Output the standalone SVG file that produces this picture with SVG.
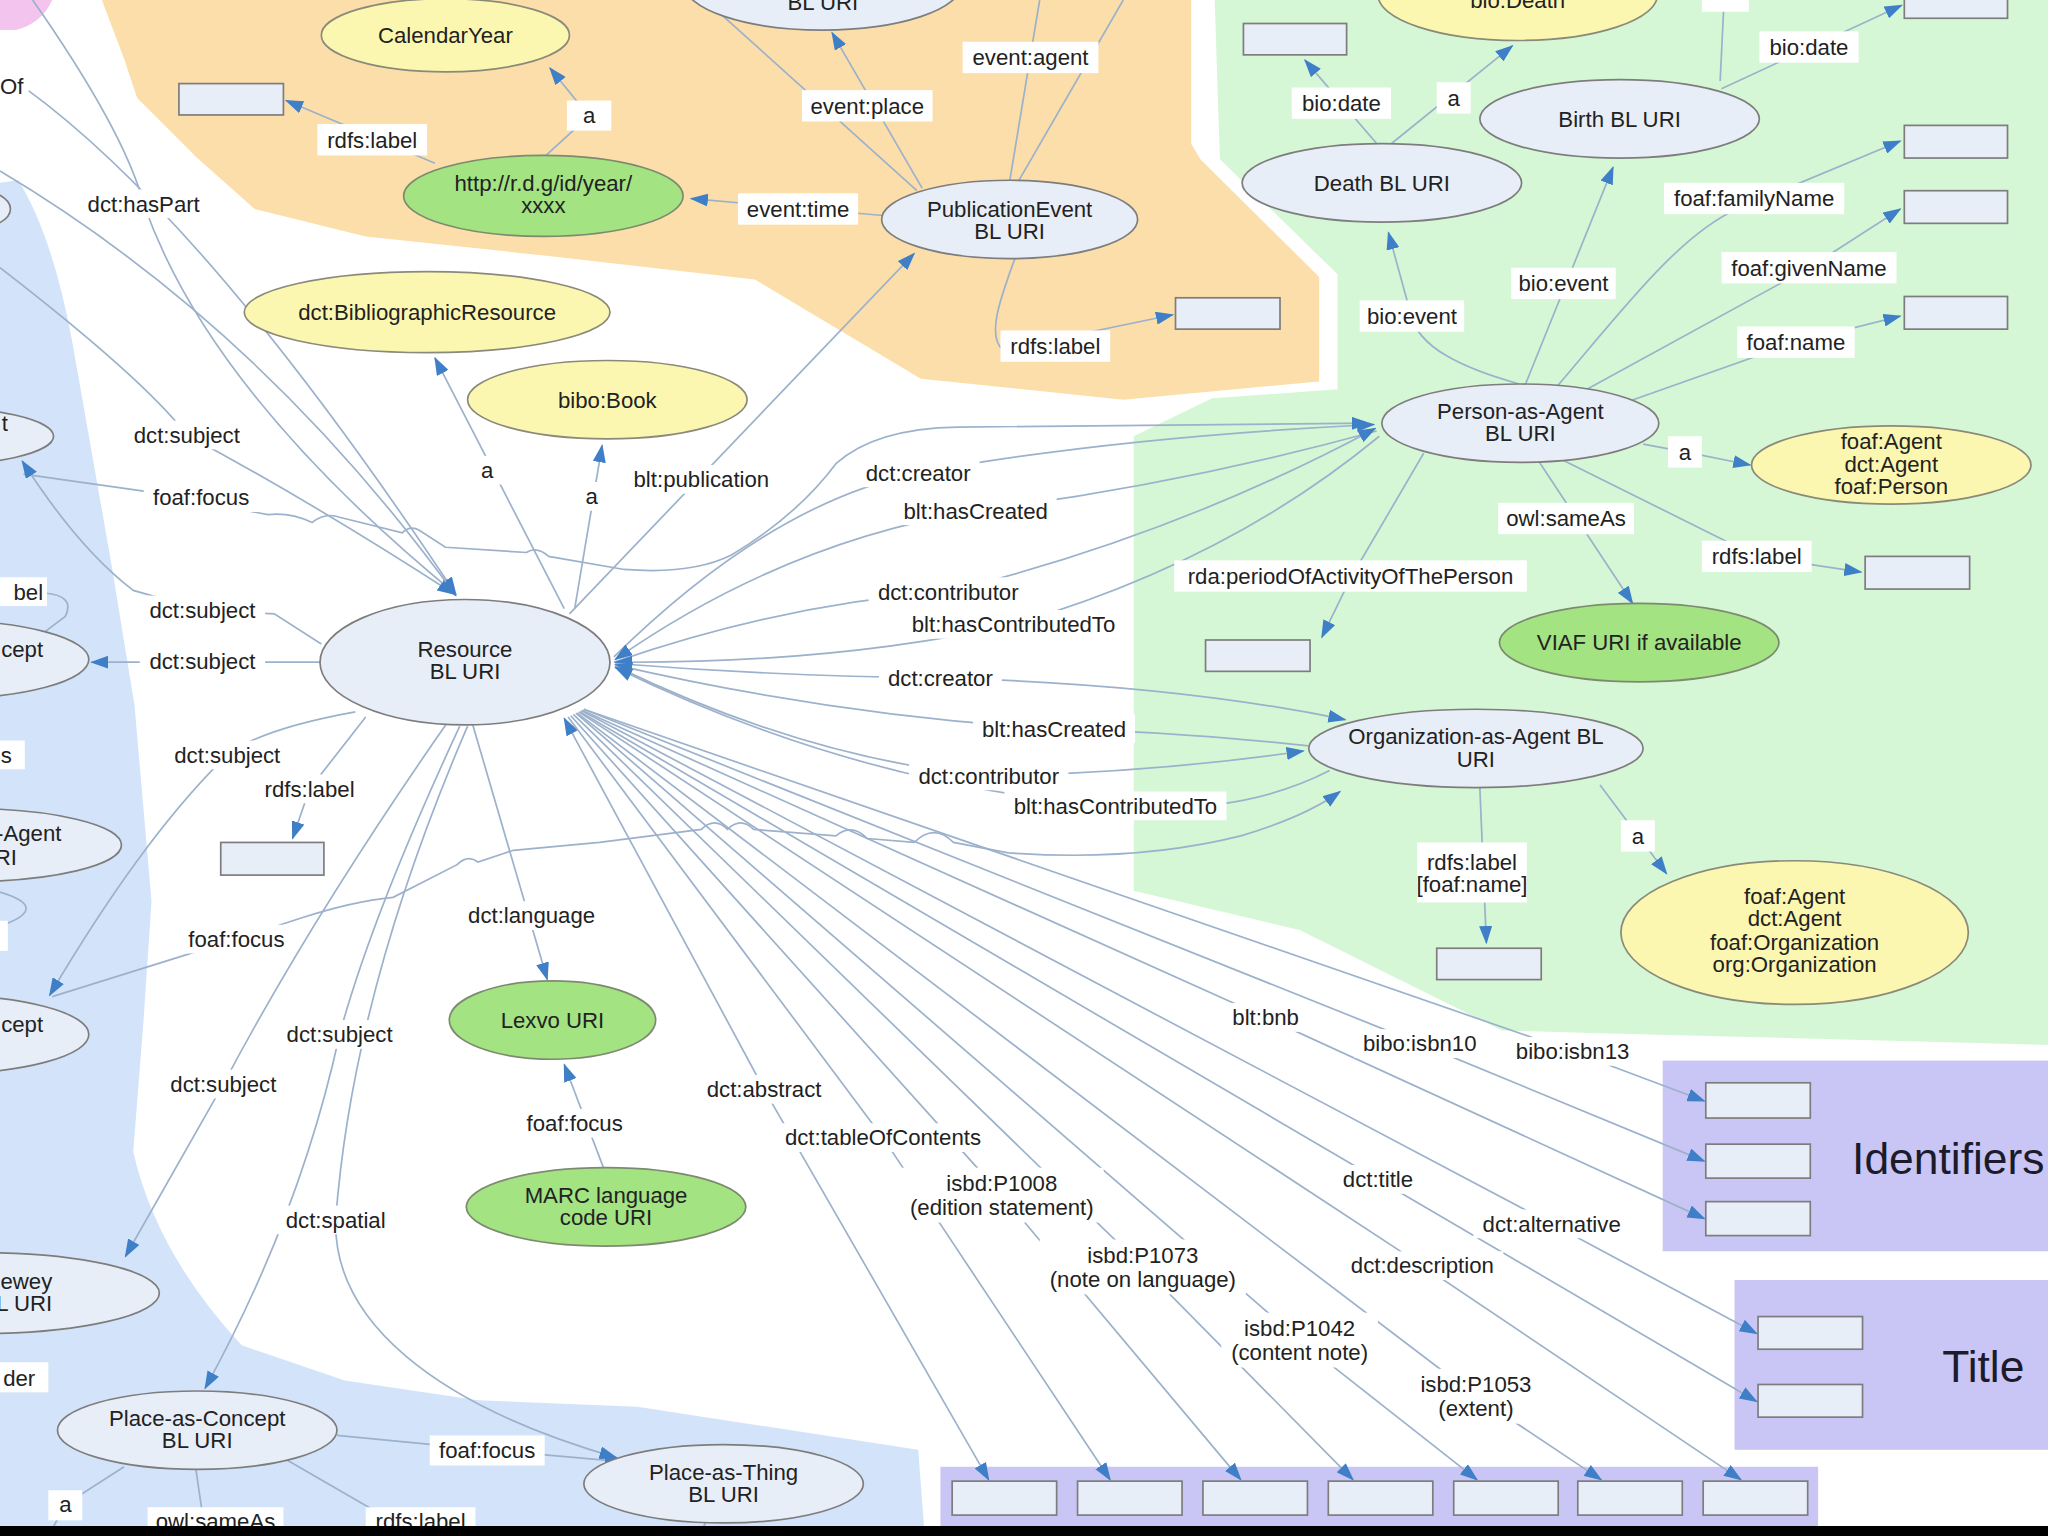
<svg xmlns="http://www.w3.org/2000/svg" width="2048" height="1536" viewBox="0 0 2048 1536">
<defs>
<style>
text{font-family:"Liberation Sans",Arial,sans-serif;font-size:17px;fill:#222;text-anchor:middle}
.n{fill:#E8EEF8;stroke:#7d7d7d;stroke-width:1.3}
.y{fill:#FCF7B0;stroke:#8a8a7a;stroke-width:1.3}
.g{fill:#A3E382;stroke:#7d8a70;stroke-width:1.3}
.r{fill:#E8EEF8;stroke:#7d7d7d;stroke-width:1.3}
.e path{fill:none;stroke:#9CB1CB;stroke-width:1.3;marker-end:url(#arr)}
.e path.na{marker-end:none}
.e path.s{marker-start:url(#arr)}
.lb rect{fill:#fff}
.big{font-size:34px;fill:#1b1b2b;text-anchor:start}
.end{text-anchor:end}
</style>
<marker id="arr" viewBox="0 0 14 10" refX="13" refY="5" markerWidth="14" markerHeight="10" markerUnits="userSpaceOnUse" orient="auto-start-reverse"><path d="M0,0L14,5L0,10z" fill="#3F7FC8"/></marker>
</defs>
<rect width="2048" height="1536" fill="#fff"/>
<g transform="scale(1.306122)">
<g id="regions">
<path d="M78,0 L912,0 L912,110 L919,122 L1010,212 L1010,292 L860,306 L705,290 L578,214 L420,196 L280,181 L195,160 L150,120 L105,75 L95,45 Z" fill="#FCDEAA"/>
<path d="M930,0 L1568,0 L1568,800 L1225,791 L1150,789 L995,712 L868,682 L868,334 L928,305 L1024,298 L1024,210 L934,122 Z" fill="#D5F7D5"/>
<path d="M0,140 L14,138 Q40,180 55,260 L85,430 L103,540 L116,690 L110,780 L102,882 Q120,960 185,1030 L264,1057 L366,1072 L488,1077 L703,1110 L708,1176 L0,1176 Z" fill="#D3E4FA"/>
<path d="M0,0 L40,0 Q32,18 12,23 L0,23 Z" fill="#F2C4EE"/>
<rect x="1273" y="812" width="300" height="146" fill="#C9C6F5"/>
<rect x="1328" y="980" width="245" height="130" fill="#C9C6F5"/>
<rect x="720" y="1123" width="672" height="60" fill="#C9C6F5"/>
<text class="big" x="1418" y="899">Identifiers</text>
<text class="big" x="1487" y="1058">Title</text>
</g>
<g id="connectors" class="e">
<path d="M333,125 L219,77"/>
<path d="M418,119 L451,89 L421,52"/>
<path d="M676,165 L529,152"/>
<path d="M706,144 L637,25"/>
<path class="na" d="M702,146 L540,0"/>
<path class="na" d="M773,139 L796,0"/>
<path class="na" d="M779,140 L860,0"/>
<path d="M777,198 C766,228 755,258 768,268 L898,241"/>
<path d="M436,470 L700,194"/>
<path d="M1055,111 L999,46"/>
<path d="M1064,111 L1158,35"/>
<path d="M1318,68 L1456,4"/>
<path class="na" d="M1317,62 L1320,0"/>
<path d="M1163,294 C1120,282 1085,266 1080,240 L1063,178"/>
<path d="M1168,294 L1235,128"/>
<path d="M1192,296 C1240,240 1285,180 1330,160 L1455,108"/>
<path d="M1215,298 L1385,205 L1455,160"/>
<path d="M1245,308 L1375,262 L1455,242"/>
<path d="M1258,340 L1290,346 L1340,356"/>
<path d="M1178,353 L1250,462"/>
<path d="M1196,352 L1345,426 L1425,438"/>
<path d="M1090,347 L1035,441 L1012,488"/>
<path d="M1225,601 L1276,669"/>
<path d="M1133,603 L1138,722"/>
<path d="M470,503 Q590,385 703,362 Q850,335 1052,325"/>
<path d="M1054,330 Q900,372 747,391 Q600,415 471,505"/>
<path d="M470,507 Q600,462 726,453 Q900,410 1053,328"/>
<path d="M1056,334 Q940,430 776,478 Q640,508 471,507"/>
<path d="M471,508 Q600,518 720,519 Q900,524 1030,551"/>
<path d="M1002,571 Q900,560 807,558 Q640,548 471,509"/>
<path d="M471,510 Q620,582 757,594 Q880,592 998,575"/>
<path d="M1018,590 Q950,625 854,617 Q660,603 471,511"/>
<path d="M18,363 L110,376 L205,394 q17,-2 34,6 q10,-8 21,-4 L308,408 q6,-6 13,-2 L341,419 L403,423 q8,-5 17,3 L478,436 Q530,440 560,425 Q610,395 640,355 Q670,328 733,327 L1048,324"/>
<path d="M40,763 L181,719 L230,703 Q270,690 301,687 L350,662 q8,-8 16,-2 L393,651 L459,645 L537,635 q10,-10 20,0 q10,-10 20,0 L640,640 q12,-10 24,2 L700,645 q15,-15 30,0 L772,653 Q870,660 950,640 Q1000,625 1026,606"/>
<path d="M246,493 L210,470 L155,467 L102,452 Q60,420 17,353"/>
<path d="M245,507 L70,507"/>
<path d="M0,205 Q110,290 143,333 Q240,385 348,455"/>
<path d="M25,0 Q95,100 110,156 Q160,300 349,455"/>
<path d="M20,68 Q160,170 349,455"/>
<path d="M0,131 Q200,250 349,456"/>
<path d="M432,466 L333,274"/>
<path d="M440,466 L461,341"/>
<path d="M280,549 L237,604 L224,642"/>
<path d="M272,545 Q200,558 174,578 Q110,640 38,762"/>
<path d="M362,555 L419,750"/>
<path d="M462,894 L432,815"/>
<path d="M352,556 Q285,700 260,792 Q230,930 157,1063"/>
<path d="M342,554 Q240,700 171,830 L96,962"/>
<path d="M358,556 Q270,760 257,934 C255,1010 330,1075 472,1116"/>
<path d="M258,1099 L373,1110 L476,1119"/>
<path class="na" d="M95,1123 L50,1152 L35,1180"/>
<path class="na" d="M150,1125 L158,1180"/>
<path class="na" d="M220,1118 L310,1170"/>
<path class="na" d="M540,1166 L534,1180"/>
<path class="na" d="M34,454 Q58,456 50,472 L34,484"/>
<path class="na" d="M0,683 Q40,695 0,709"/>
<path class="s" d="M432,550 L585,834 L757,1133"/>
<path d="M435,549 L676,871 L850,1133"/>
<path d="M437,548 L767,915 L950,1133"/>
<path d="M439,547 L875,970 L1036,1133"/>
<path d="M441,546 L995,1026 L1131,1133"/>
<path d="M442,546 L1130,1069 L1226,1133"/>
<path d="M443,545 L1089,969 L1333,1133"/>
<path d="M444,545 L1055,903 L1345,1073"/>
<path d="M445,544 L1188,937 L1345,1021"/>
<path d="M446,544 L969,779 L1305,933"/>
<path d="M447,543 L1087,799 L1305,889"/>
<path d="M447,543 L1204,805 L1305,843"/>
</g>
<g id="edge-labels" class="lb">
<rect x="243" y="95" width="84" height="24"/><text x="285" y="113">rdfs:label</text>
<rect x="434" y="77" width="34" height="23"/><text x="451" y="94">a</text>
<rect x="565" y="148" width="92" height="24"/><text x="611" y="166">event:time</text>
<rect x="614" y="69" width="100" height="24"/><text x="664" y="87">event:place</text>
<rect x="737" y="32" width="104" height="24"/><text x="789" y="50">event:agent</text>
<rect x="766" y="253" width="84" height="24"/><text x="808" y="271">rdfs:label</text>
<rect x="1303" y="-10" width="36" height="19"/>
<rect x="989" y="67" width="76" height="24"/><text x="1027" y="85">bio:date</text>
<rect x="1100" y="63" width="26" height="24"/><text x="1113" y="81">a</text>
<rect x="1347" y="24" width="76" height="24"/><text x="1385" y="42">bio:date</text>
<rect x="1041" y="230" width="80" height="24"/><text x="1081" y="248">bio:event</text>
<rect x="1157" y="205" width="80" height="24"/><text x="1197" y="223">bio:event</text>
<rect x="1274" y="140" width="138" height="24"/><text x="1343" y="158">foaf:familyName</text>
<rect x="1318" y="193" width="134" height="24"/><text x="1385" y="211">foaf:givenName</text>
<rect x="1330" y="250" width="90" height="24"/><text x="1375" y="268">foaf:name</text>
<rect x="1277" y="334" width="26" height="24"/><text x="1290" y="352">a</text>
<rect x="1147" y="385" width="104" height="24"/><text x="1199" y="403">owl:sameAs</text>
<rect x="1303" y="414" width="84" height="24"/><text x="1345" y="432">rdfs:label</text>
<rect x="899" y="429" width="270" height="24"/><text x="1034" y="447">rda:periodOfActivityOfThePerson</text>
<rect x="1241" y="628" width="26" height="24"/><text x="1254" y="646">a</text>
<rect x="1085" y="645" width="84" height="46"/><text x="1127" y="666">rdfs:label</text><text x="1127" y="683">[foaf:name]</text>
<rect x="60" y="145" width="100" height="22"/><text x="110" y="162">dct:hasPart</text>
<rect x="95" y="322" width="96" height="22"/><text x="143" y="339">dct:subject</text>
<rect x="110" y="370" width="88" height="22"/><text x="154" y="387">foaf:focus</text>
<rect x="107" y="456" width="96" height="22"/><text x="155" y="473">dct:subject</text>
<rect x="107" y="495" width="96" height="22"/><text x="155" y="512">dct:subject</text>
<rect x="362" y="349" width="22" height="22"/><text x="373" y="366">a</text>
<rect x="442" y="369" width="22" height="22"/><text x="453" y="386">a</text>
<rect x="478" y="356" width="118" height="22"/><text x="537" y="373">blt:publication</text>
<rect x="656" y="351" width="94" height="22"/><text x="703" y="368">dct:creator</text>
<rect x="685" y="380" width="124" height="22"/><text x="747" y="397">blt:hasCreated</text>
<rect x="665" y="442" width="122" height="22"/><text x="726" y="459">dct:contributor</text>
<rect x="691" y="467" width="170" height="22"/><text x="776" y="484">blt:hasContributedTo</text>
<rect x="673" y="508" width="94" height="22"/><text x="720" y="525">dct:creator</text>
<rect x="745" y="547" width="124" height="22"/><text x="807" y="564">blt:hasCreated</text>
<rect x="696" y="583" width="122" height="22"/><text x="757" y="600">dct:contributor</text>
<rect x="769" y="606" width="170" height="22"/><text x="854" y="623">blt:hasContributedTo</text>
<rect x="126" y="567" width="96" height="22"/><text x="174" y="584">dct:subject</text>
<rect x="195" y="593" width="84" height="22"/><text x="237" y="610">rdfs:label</text>
<rect x="352" y="690" width="110" height="22"/><text x="407" y="707">dct:language</text>
<rect x="137" y="708" width="88" height="22"/><text x="181" y="725">foaf:focus</text>
<rect x="212" y="781" width="96" height="22"/><text x="260" y="798">dct:subject</text>
<rect x="123" y="819" width="96" height="22"/><text x="171" y="836">dct:subject</text>
<rect x="396" y="849" width="88" height="22"/><text x="440" y="866">foaf:focus</text>
<rect x="212" y="923" width="90" height="22"/><text x="257" y="940">dct:spatial</text>
<rect x="534" y="823" width="102" height="22"/><text x="585" y="840">dct:abstract</text>
<rect x="594" y="860" width="164" height="22"/><text x="676" y="877">dct:tableOfContents</text>
<rect x="689" y="894" width="156" height="42"/><text x="767" y="912">isbd:P1008</text><text x="767" y="930">(edition statement)</text>
<rect x="796" y="949" width="158" height="42"/><text x="875" y="967">isbd:P1073</text><text x="875" y="985">(note on language)</text>
<rect x="935" y="1005" width="120" height="42"/><text x="995" y="1023">isbd:P1042</text><text x="995" y="1041">(content note)</text>
<rect x="1080" y="1048" width="100" height="42"/><text x="1130" y="1066">isbd:P1053</text><text x="1130" y="1084">(extent)</text>
<rect x="937" y="768" width="64" height="22"/><text x="969" y="785">blt:bnb</text>
<rect x="1037" y="788" width="100" height="22"/><text x="1087" y="805">bibo:isbn10</text>
<rect x="1154" y="794" width="100" height="22"/><text x="1204" y="811">bibo:isbn13</text>
<rect x="1021" y="892" width="68" height="22"/><text x="1055" y="909">dct:title</text>
<rect x="1128" y="926" width="120" height="22"/><text x="1188" y="943">dct:alternative</text>
<rect x="1027" y="958" width="124" height="22"/><text x="1089" y="975">dct:description</text>
<rect x="329" y="1099" width="88" height="23"/><text x="373" y="1116">foaf:focus</text>
<rect x="37" y="1141" width="26" height="23"/><text x="50" y="1158">a</text>
<rect x="113" y="1154" width="104" height="23"/><text x="165" y="1171">owl:sameAs</text>
<rect x="280" y="1154" width="84" height="23"/><text x="322" y="1171">rdfs:label</text>
<rect x="-10" y="55" width="32" height="21"/><text class="end" x="18" y="72">Of</text>
<rect x="-10" y="442" width="46" height="22"/><text class="end" x="33" y="459">bel</text>
<rect x="-10" y="567" width="29" height="22"/><text class="end" x="9" y="584">s</text>
<rect x="-10" y="705" width="16" height="23"/>
<rect x="-10" y="1043" width="47" height="23"/><text class="end" x="27" y="1061">der</text>
</g>
<g id="node-bl-uri-top"><ellipse class="n" cx="630" cy="-12" rx="106" ry="35"/><text x="630" y="8">BL URI</text></g>
<g id="node-calendaryear"><ellipse class="y" cx="341" cy="27" rx="95" ry="28"/><text x="341" y="33">CalendarYear</text></g>
<g id="node-year-label"><rect class="r" x="137" y="64" width="80" height="24"/></g>
<g id="node-year-uri"><ellipse class="g" cx="416" cy="150" rx="107" ry="31"/><text x="416" y="146">http://r.d.g/id/year/</text><text x="416" y="163">xxxx</text></g>
<g id="node-publicationevent"><ellipse class="n" cx="773" cy="168" rx="98" ry="30"/><text x="773" y="166">PublicationEvent</text><text x="773" y="183">BL URI</text></g>
<g id="node-pubevent-label"><rect class="r" x="900" y="228" width="80" height="24"/></g>
<g id="node-bibliographicresource"><ellipse class="y" cx="327" cy="239" rx="140" ry="31"/><text x="327" y="245">dct:BibliographicResource</text></g>
<g id="node-book"><ellipse class="y" cx="465" cy="306" rx="107" ry="30"/><text x="465" y="312">bibo:Book</text></g>
<g id="node-resource"><ellipse class="n" cx="356" cy="507" rx="111" ry="48"/><text x="356" y="503">Resource</text><text x="356" y="520">BL URI</text></g>
<g id="node-bio-death"><ellipse class="y" cx="1162" cy="-4" rx="107" ry="35"/><text x="1162" y="6">bio:Death</text></g>
<g id="node-death-date"><rect class="r" x="952" y="18" width="79" height="24"/></g>
<g id="node-birth"><ellipse class="n" cx="1240" cy="91" rx="107" ry="30"/><text x="1240" y="97">Birth BL URI</text></g>
<g id="node-birth-date"><rect class="r" x="1458" y="-12" width="79" height="26"/></g>
<g id="node-death"><ellipse class="n" cx="1058" cy="140" rx="107" ry="30"/><text x="1058" y="146">Death BL URI</text></g>
<g id="node-familyname"><rect class="r" x="1458" y="96" width="79" height="25"/></g>
<g id="node-givenname"><rect class="r" x="1458" y="146" width="79" height="25"/></g>
<g id="node-name"><rect class="r" x="1458" y="227" width="79" height="25"/></g>
<g id="node-person"><ellipse class="n" cx="1164" cy="324" rx="106" ry="30"/><text x="1164" y="321">Person-as-Agent</text><text x="1164" y="338">BL URI</text></g>
<g id="node-person-class"><ellipse class="y" cx="1448" cy="356" rx="107" ry="30"/><text x="1448" y="344">foaf:Agent</text><text x="1448" y="361">dct:Agent</text><text x="1448" y="378">foaf:Person</text></g>
<g id="node-person-label"><rect class="r" x="1428" y="426" width="80" height="25"/></g>
<g id="node-viaf"><ellipse class="g" cx="1255" cy="492" rx="107" ry="30"/><text x="1255" y="498">VIAF URI if available</text></g>
<g id="node-period"><rect class="r" x="923" y="490" width="80" height="24"/></g>
<g id="node-organization"><ellipse class="n" cx="1130" cy="573" rx="128" ry="30"/><text x="1130" y="570">Organization-as-Agent BL</text><text x="1130" y="587">URI</text></g>
<g id="node-org-label"><rect class="r" x="1100" y="726" width="80" height="24"/></g>
<g id="node-org-class"><ellipse class="y" cx="1374" cy="714" rx="133" ry="55"/><text x="1374" y="692">foaf:Agent</text><text x="1374" y="709">dct:Agent</text><text x="1374" y="727">foaf:Organization</text><text x="1374" y="744">org:Organization</text></g>
<g id="node-lexvo"><ellipse class="g" cx="423" cy="781" rx="79" ry="30"/><text x="423" y="787">Lexvo URI</text></g>
<g id="node-marc"><ellipse class="g" cx="464" cy="924" rx="107" ry="30"/><text x="464" y="921">MARC language</text><text x="464" y="938">code URI</text></g>
<g id="node-resource-label"><rect class="r" x="169" y="645" width="79" height="25"/></g>
<g id="node-place-concept"><ellipse class="n" cx="151" cy="1095" rx="107" ry="30"/><text x="151" y="1092">Place-as-Concept</text><text x="151" y="1109">BL URI</text></g>
<g id="node-place-thing"><ellipse class="n" cx="554" cy="1136" rx="107" ry="30"/><text x="554" y="1133">Place-as-Thing</text><text x="554" y="1150">BL URI</text></g>
<g id="node-left-top"><ellipse class="n" cx="-30" cy="160" rx="38" ry="17"/></g>
<g id="node-left-t"><ellipse class="n" cx="-60" cy="334" rx="101" ry="23"/><text class="end" x="6" y="330">t</text></g>
<g id="node-left-cept1"><ellipse class="n" cx="-45" cy="505" rx="113" ry="30"/><text class="end" x="33" y="503">cept</text></g>
<g id="node-left-agent"><ellipse class="n" cx="-25" cy="647" rx="118" ry="28"/><text class="end" x="47" y="644">-Agent</text><text class="end" x="13" y="662">RI</text></g>
<g id="node-left-cept2"><ellipse class="n" cx="-45" cy="792" rx="113" ry="30"/><text class="end" x="33" y="790">cept</text></g>
<g id="node-left-dewey"><ellipse class="n" cx="-15" cy="990" rx="137" ry="31"/><text class="end" x="40" y="987">ewey</text><text class="end" x="40" y="1004">L URI</text></g>
<g id="node-ident-1"><rect class="r" x="1306" y="829" width="80" height="27"/></g>
<g id="node-ident-2"><rect class="r" x="1306" y="876" width="80" height="26"/></g>
<g id="node-ident-3"><rect class="r" x="1306" y="920" width="80" height="26"/></g>
<g id="node-title-1"><rect class="r" x="1346" y="1008" width="80" height="25"/></g>
<g id="node-title-2"><rect class="r" x="1346" y="1060" width="80" height="25"/></g>
<g id="node-bottom-1"><rect class="r" x="729" y="1134" width="80" height="26"/></g>
<g id="node-bottom-2"><rect class="r" x="825" y="1134" width="80" height="26"/></g>
<g id="node-bottom-3"><rect class="r" x="921" y="1134" width="80" height="26"/></g>
<g id="node-bottom-4"><rect class="r" x="1017" y="1134" width="80" height="26"/></g>
<g id="node-bottom-5"><rect class="r" x="1113" y="1134" width="80" height="26"/></g>
<g id="node-bottom-6"><rect class="r" x="1208" y="1134" width="80" height="26"/></g>
<g id="node-bottom-7"><rect class="r" x="1304" y="1134" width="80" height="26"/></g>
</g>
<rect x="0" y="1526" width="2048" height="10" fill="#000"/>
</svg>
